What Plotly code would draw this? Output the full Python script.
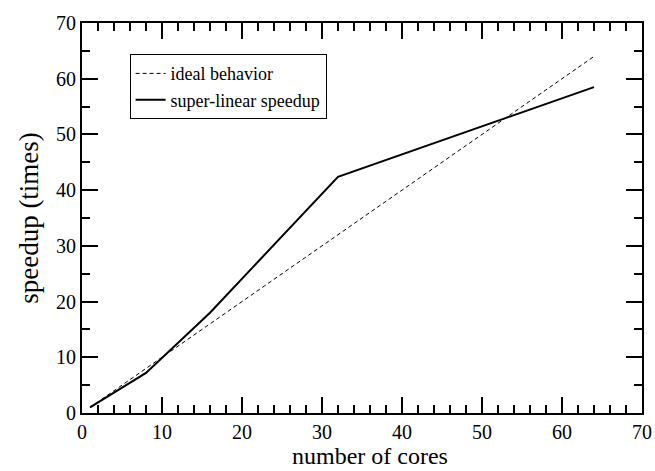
import plotly.graph_objects as go

cores = [1, 8, 16, 32, 64]
ideal = [1, 8, 16, 32, 64]
superlinear = [1, 7.2, 18.0, 42.4, 58.5]

FONT = "Liberation Serif"

fig = go.Figure()
fig.add_trace(go.Scatter(x=cores, y=ideal, mode="lines", name="ideal behavior",
                         line=dict(color="black", width=1, dash="4px,3px")))
fig.add_trace(go.Scatter(x=cores, y=superlinear, mode="lines", name="super-linear speedup",
                         line=dict(color="black", width=2)))

axis_common = dict(showline=True, linecolor="black", linewidth=2, mirror="ticks",
                   ticks="inside", ticklen=16, tickwidth=2, tickcolor="black",
                   showgrid=False, zeroline=False, automargin=False,
                   tickfont=dict(family=FONT, size=20, color="black"))

fig.update_xaxes(range=[0, 70], dtick=10, tick0=0,
                 minor=dict(ticks="inside", ticklen=8, tickwidth=2, tickcolor="black", dtick=2, showgrid=False),
                 **axis_common)
fig.update_yaxes(range=[0, 70], dtick=10, tick0=0,
                 minor=dict(ticks="inside", ticklen=8, tickwidth=2, tickcolor="black", dtick=5, showgrid=False),
                 title=dict(text="speedup (times)", font=dict(family=FONT, size=27, color="black"), standoff=10),
                 **axis_common)

fig.add_annotation(text="number of cores", xref="paper", yref="paper",
                   x=0.515, y=0, xanchor="center", yanchor="bottom",
                   yshift=-58, showarrow=False,
                   font=dict(family=FONT, size=24, color="black"))

fig.update_layout(
    width=655, height=471,
    font=dict(family=FONT, color="black"),
    margin=dict(l=82, r=13, t=23, b=58),
    plot_bgcolor="white", paper_bgcolor="white",
    legend=dict(x=0.085, y=0.92, xanchor="left", yanchor="top",
                bordercolor="black", borderwidth=1, bgcolor="white",
                font=dict(family=FONT, size=18, color="black"),
                tracegroupgap=0),
)

fig.write_html("out.html")
